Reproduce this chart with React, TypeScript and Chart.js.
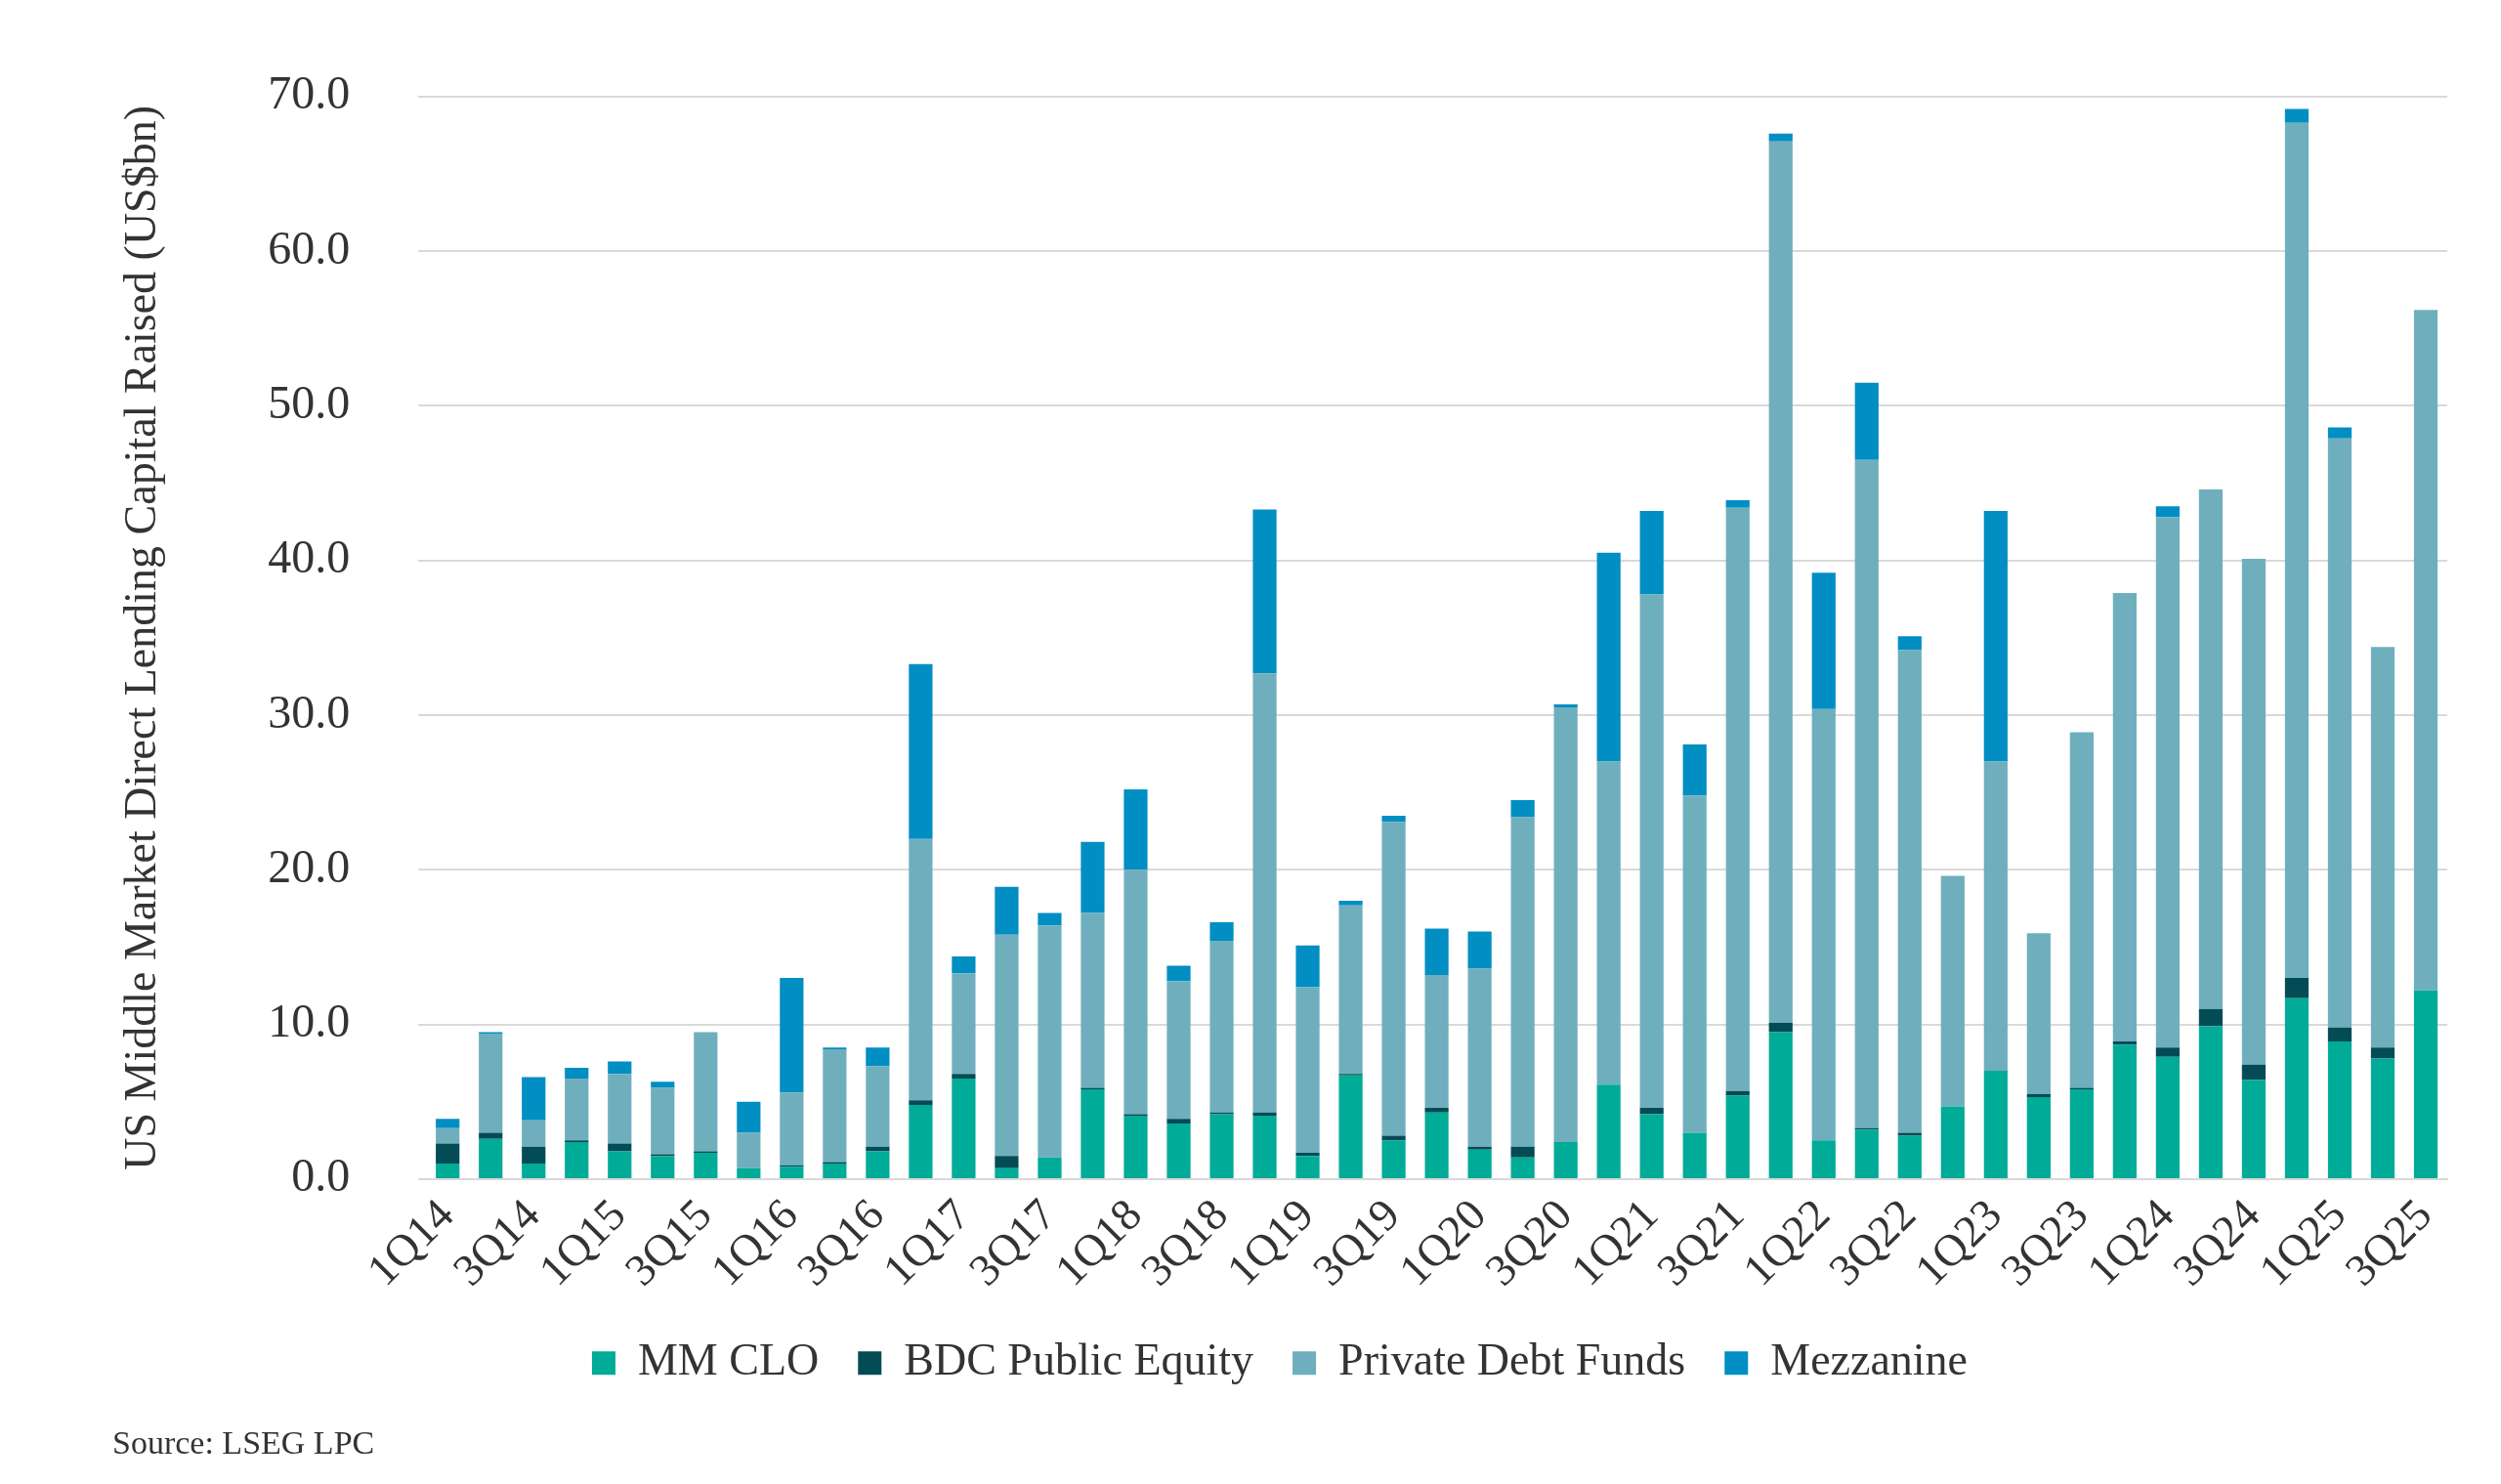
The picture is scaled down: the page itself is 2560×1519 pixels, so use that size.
import React, { useEffect, useRef } from "react";
import { Chart, registerables } from "chart.js";
Chart.register(...registerables);

const quarters = ["1Q14","2Q14","3Q14","4Q14","1Q15","2Q15","3Q15","4Q15","1Q16","2Q16","3Q16","4Q16","1Q17","2Q17","3Q17","4Q17","1Q18","2Q18","3Q18","4Q18","1Q19","2Q19","3Q19","4Q19","1Q20","2Q20","3Q20","4Q20","1Q21","2Q21","3Q21","4Q21","1Q22","2Q22","3Q22","4Q22","1Q23","2Q23","3Q23","4Q23","1Q24","2Q24","3Q24","4Q24","1Q25","2Q25","3Q25"];
const mmClo = [1.0,2.6,1.0,2.4,1.8,1.5,1.7,0.7,0.8,1.0,1.8,4.8,6.5,0.7,1.4,5.8,4.1,3.6,4.2,4.1,1.5,6.7,2.5,4.3,1.9,1.4,2.4,6.1,4.2,3.0,5.4,9.5,2.5,3.2,2.8,4.7,7.0,5.3,5.8,8.7,7.9,9.9,6.4,11.7,8.9,7.8,12.2];
const bdcEquity = [1.3,0.4,1.1,0.1,0.5,0.1,0.1,0,0.1,0.1,0.3,0.3,0.3,0.8,0,0.1,0.1,0.3,0.1,0.2,0.2,0.1,0.3,0.3,0.2,0.7,0,0,0.4,0,0.3,0.6,0,0.1,0.2,0,0,0.2,0.1,0.2,0.6,1.1,1.0,1.3,0.9,0.7,0];
const privateDebt = [1.0,6.4,1.7,4.0,4.5,4.3,7.7,2.3,4.7,7.3,5.2,16.9,6.5,14.3,15.0,11.3,15.8,8.9,11.1,28.4,10.7,10.9,20.3,8.6,11.5,21.3,28.1,20.9,33.2,21.8,37.7,57.0,27.9,43.2,31.2,14.9,20.0,10.4,23.0,29.0,34.3,33.6,32.7,55.3,38.1,25.9,44.0];
const mezzanine = [0.6,0.1,2.8,0.7,0.8,0.4,0,2.0,7.4,0.1,1.2,11.3,1.1,3.1,0.8,4.6,5.2,1.0,1.2,10.6,2.7,0.3,0.4,3.0,2.4,1.1,0.2,13.5,5.4,3.3,0.5,0.5,8.8,5.0,0.9,0,16.2,0,0,0,0.7,0,0,0.9,0.7,0,0];

const FONT = "'Liberation Serif', 'DejaVu Serif', serif";

export default function App() {
  const ref = useRef<HTMLCanvasElement>(null);
  useEffect(() => {
    document.body.style.margin = "0";
    const ds = (label: string, data: number[], color: string) => ({
      label, data, backgroundColor: color, borderWidth: 0, barPercentage: 0.55, categoryPercentage: 1,
    });
    const chart = new Chart(ref.current!, {
      type: "bar",
      data: {
        labels: quarters,
        datasets: [
          ds("MM CLO", mmClo, "#00AB97"),
          ds("BDC Public Equity", bdcEquity, "#034C55"),
          ds("Private Debt Funds", privateDebt, "#6FAFBD"),
          ds("Mezzanine", mezzanine, "#008EC3"),
        ],
      },
      options: {
        animation: false,
        responsive: false,
        layout: { padding: { left: 115, right: 55, top: 62, bottom: 12 } },
        plugins: {
          tooltip: { enabled: false },
          legend: {
            position: "bottom",
            labels: { font: { family: FONT, size: 46 }, color: "#333", boxWidth: 24, boxHeight: 24, padding: 40 },
          },
          subtitle: {
            display: true, text: "Source: LSEG LPC", position: "bottom", align: "start",
            font: { family: FONT, size: 34 }, color: "#333", padding: { top: 30, bottom: 8 },
          },
        },
        scales: {
          x: {
            stacked: true,
            grid: { display: false },
            border: { color: "#d9d9d9", width: 2 },
            ticks: {
              autoSkip: false, maxRotation: 45, minRotation: 45, color: "#333",
              font: { family: FONT, size: 46 },
              callback: (_v: any, i: number) => (i % 2 === 0 ? quarters[i] : ""),
            },
          },
          y: {
            stacked: true, min: 0, max: 70,
            grid: { color: "#d9d9d9", lineWidth: 2 },
            border: { display: false },
            ticks: { stepSize: 10, color: "#333", font: { family: FONT, size: 48 }, padding: 70, callback: (v: any) => Number(v).toFixed(1) },
            title: { display: true, text: "US Middle Market Direct Lending Capital Raised (US$bn)", color: "#333", font: { family: FONT, size: 46 }, padding: { bottom: 30 } },
          },
        },
      },
    });
    return () => chart.destroy();
  }, []);
  return <canvas ref={ref} width={2560} height={1519} style={{ display: "block" }} />;
}
